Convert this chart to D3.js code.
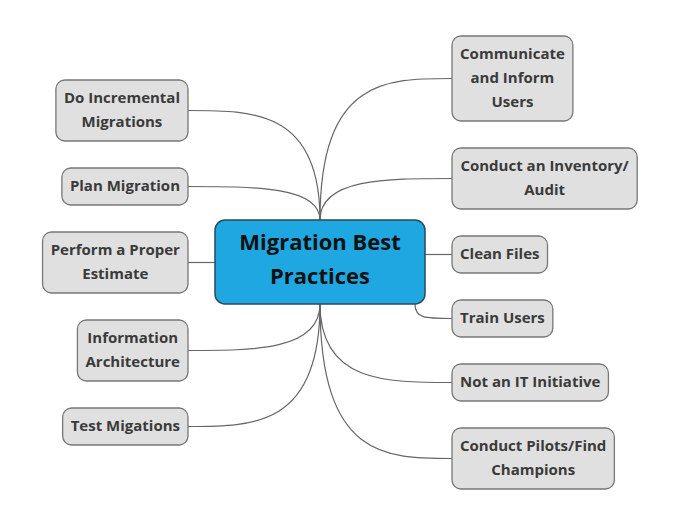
<html>
<head>
<script src="https://d3js.org/d3.v7.min.js"></script>
<style>
  html, body { margin:0; background:#fff; }
  text { font-family: "Open Sans", sans-serif; font-weight:bold; }
</style>
</head>
<body>
<svg id="chart" width="684" height="527"></svg>
<script>
// chart content
var centerLabel = ["Migration Best", "Practices"];
var leftTopics = [
  ["Do Incremental", "Migrations"],
  ["Plan Migration"],
  ["Perform a Proper", "Estimate"],
  ["Information", "Architecture"],
  ["Test Migations"]
];
var rightTopics = [
  ["Communicate", "and Inform", "Users"],
  ["Conduct an Inventory/", "Audit"],
  ["Clean Files"],
  ["Train Users"],
  ["Not an IT Initiative"],
  ["Conduct Pilots/Find", "Champions"]
];

var svg = d3.select("#chart");
var lineH = 24, pad = 6, gap = 27;
var center = {x0:215, x1:425, y0:220, y1:304};
var cx = 320;

function layout(list, startY, side) {
  var y = startY, out = [];
  list.forEach(function(lines){
    var h = lines.length*lineH + 13;
    out.push({lines:lines, y0:y, h:h, side:side});
    y += h + gap;
  });
  return out;
}
var nodes = layout(leftTopics, 80, "L").concat(layout(rightTopics, 36, "R"));

var links = svg.append("g");
var boxes = svg.append("g");

nodes.forEach(function(n){
  var g = boxes.append("g");
  var t = g.append("text").attr("text-anchor","middle").attr("font-size",15).attr("fill","#3a3a3a");
  n.lines.forEach(function(l,i){ t.append("tspan").attr("x",0).attr("y", i*lineH).text(l); });
  var w = t.node().getBBox().width + 16;
  var x0 = n.side === "L" ? 188 - w : 452;
  var ym = n.y0 + n.h/2;
  g.insert("rect","text").attr("x",x0).attr("y",n.y0).attr("width",w).attr("height",n.h)
    .attr("rx",9).attr("fill","#e0e0e0").attr("stroke","#777").attr("stroke-width",1.3);
  t.attr("transform","translate("+(x0+w/2)+","+(n.y0+23)+")");
  // connector
  var tx = n.side === "L" ? 188 : 452, sx, sy, p;
  if (ym > center.y0 + 10 && ym < center.y1 - 5) {
    sx = n.side === "L" ? center.x0 : center.x1; sy = ym;
    p = "M"+sx+","+sy+"L"+tx+","+ym;
  } else if (ym >= center.y1 - 5 && ym < center.y1 + 30 && n.side === "R") {
    sx = center.x1 - 10; sy = center.y1;
    p = "M"+sx+","+sy+"C"+sx+","+ym+" "+(sx+10)+","+ym+" "+tx+","+ym;
  } else {
    sx = cx; sy = ym < center.y0 ? center.y0 : center.y1;
    p = "M"+sx+","+sy+"C"+sx+","+ym+" "+((sx+tx)/2)+","+ym+" "+tx+","+ym;
  }
  links.append("path").attr("d",p).attr("fill","none").attr("stroke","#666").attr("stroke-width",1.2);
});

svg.append("rect").attr("x",center.x0).attr("y",center.y0)
  .attr("width",center.x1-center.x0).attr("height",center.y1-center.y0)
  .attr("rx",10).attr("fill","#1ea7e0").attr("stroke","#2b4a5a").attr("stroke-width",1.5);
var ct = svg.append("text").attr("text-anchor","middle").attr("font-size",22).attr("fill","#111");
centerLabel.forEach(function(l,i){ ct.append("tspan").attr("x",320).attr("y",250+i*34).text(l); });
</script>
</body>
</html>
